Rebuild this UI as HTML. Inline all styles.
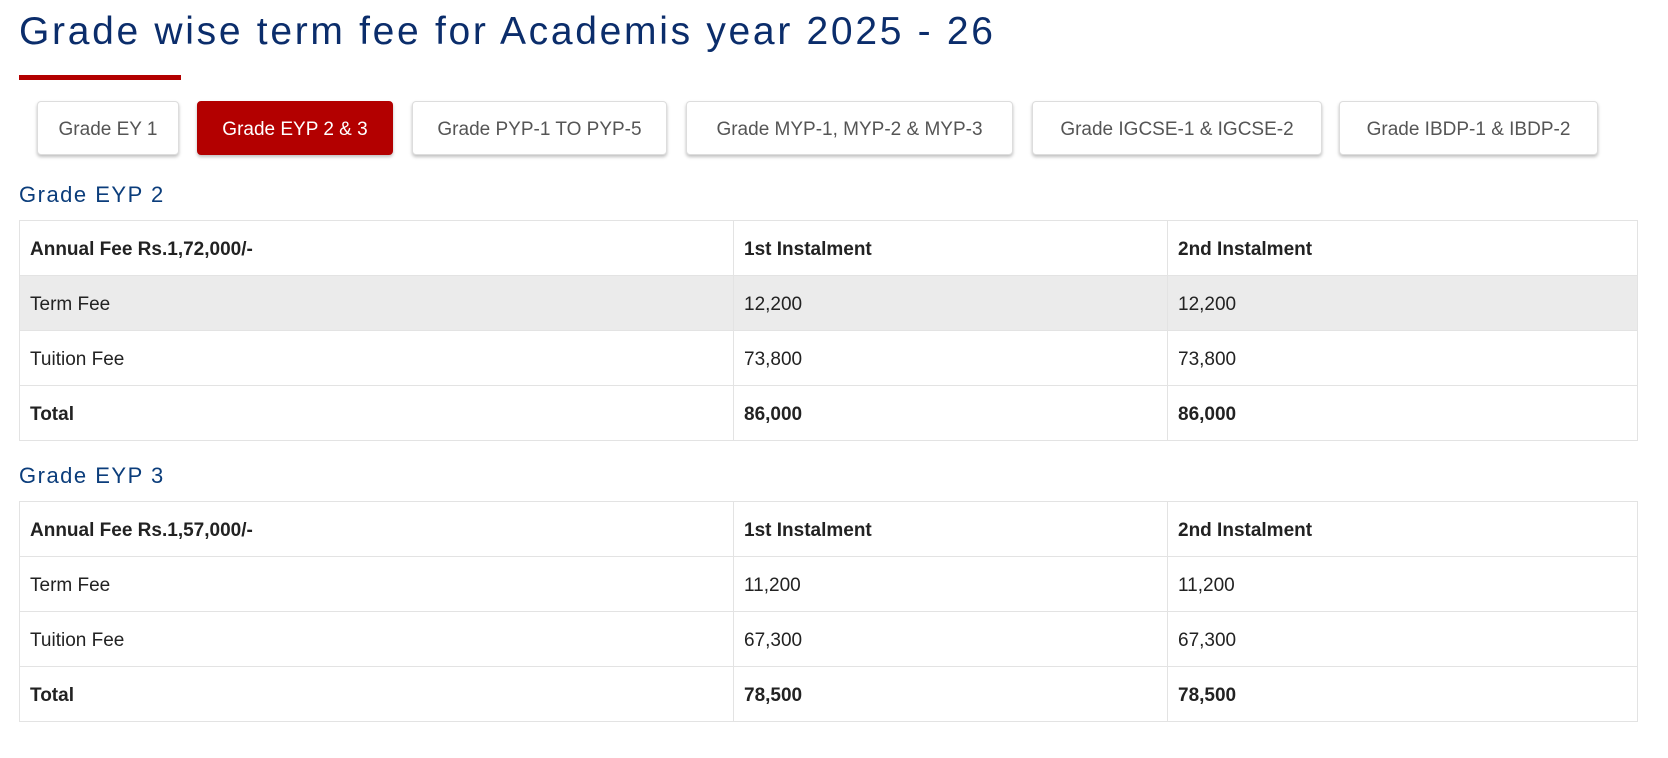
<!DOCTYPE html>
<html><head><meta charset="utf-8"><style>
*{margin:0;padding:0;box-sizing:border-box}
body{width:1668px;height:758px;background:#fff;font-family:"Liberation Sans",sans-serif;position:relative;overflow:hidden}
h1{position:absolute;left:19px;top:10px;font-size:39px;font-weight:normal;color:#0b2d6b;letter-spacing:2.7px;white-space:nowrap}
.bar{position:absolute;left:19px;top:75px;width:162px;height:5px;background:#b30000}
.btn{position:absolute;top:101px;height:54px;border:1px solid #ddd;border-radius:4px;box-shadow:0 2px 3px rgba(0,0,0,.25);background:#fff;color:#555;font-size:19px;display:flex;align-items:center;justify-content:center;white-space:nowrap;padding-top:3px}
.btn.a{background:#b30000;color:#fff;border-color:#b30000}
h3{position:absolute;left:19px;font-size:22px;font-weight:normal;color:#0b3d7b;letter-spacing:1.5px}
table{position:absolute;left:19px;width:1619px;border-collapse:collapse;font-size:19px;color:#222}
td{border:1px solid #e3e3e3;height:55px;padding:3px 0 0 10px}
td:nth-child(1){width:714px}td:nth-child(2){width:434px}
.b td{font-weight:bold}
.g td{background:#ebebeb}
</style></head><body>
<h1>Grade wise term fee for Academis year 2025 - 26</h1>
<div class="bar"></div>
<div class="btn" style="left:37px;width:142px">Grade EY 1</div>
<div class="btn a" style="left:197px;width:196px">Grade EYP 2 &amp; 3</div>
<div class="btn" style="left:412px;width:255px">Grade PYP-1 TO PYP-5</div>
<div class="btn" style="left:686px;width:327px">Grade MYP-1, MYP-2 &amp; MYP-3</div>
<div class="btn" style="left:1032px;width:290px">Grade IGCSE-1 &amp; IGCSE-2</div>
<div class="btn" style="left:1339px;width:259px">Grade IBDP-1 &amp; IBDP-2</div>
<h3 style="top:182px">Grade EYP 2</h3>
<table style="top:220px">
<tr class="b"><td>Annual Fee Rs.1,72,000/-</td><td>1st Instalment</td><td>2nd Instalment</td></tr>
<tr class="g"><td>Term Fee</td><td>12,200</td><td>12,200</td></tr>
<tr><td>Tuition Fee</td><td>73,800</td><td>73,800</td></tr>
<tr class="b"><td>Total</td><td>86,000</td><td>86,000</td></tr>
</table>
<h3 style="top:463px">Grade EYP 3</h3>
<table style="top:501px">
<tr class="b"><td>Annual Fee Rs.1,57,000/-</td><td>1st Instalment</td><td>2nd Instalment</td></tr>
<tr><td>Term Fee</td><td>11,200</td><td>11,200</td></tr>
<tr><td>Tuition Fee</td><td>67,300</td><td>67,300</td></tr>
<tr class="b"><td>Total</td><td>78,500</td><td>78,500</td></tr>
</table>
</body></html>
